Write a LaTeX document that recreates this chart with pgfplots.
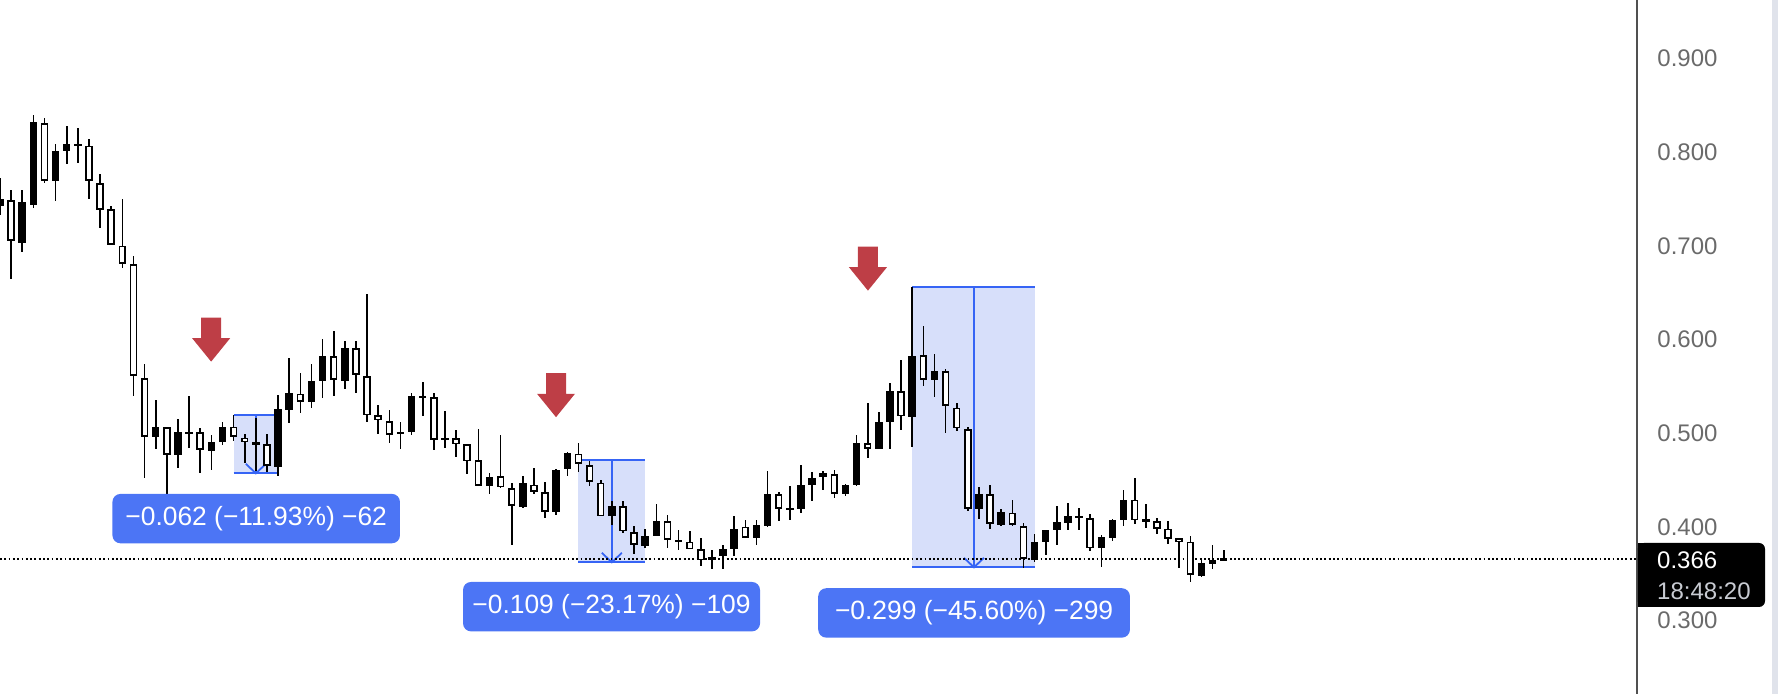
\documentclass[border=0pt]{standalone}
\usepackage{pgfplots}
\pgfplotsset{compat=1.18}
\usepackage{pgfplotstable}
\usepackage{fontspec}
\setmainfont{Liberation Sans}
\definecolor{boxfill}{RGB}{215,223,250}
\definecolor{lineblue}{RGB}{54,100,245}
\definecolor{labelblue}{RGB}{76,117,245}
\definecolor{arrowred}{RGB}{190,62,70}
\definecolor{tickgray}{RGB}{106,106,106}
\definecolor{axisgray}{RGB}{80,80,80}
\definecolor{stripgray}{RGB}{224,227,235}
\definecolor{timegray}{RGB}{200,203,210}

\pgfplotstableread{
i o h l c
0 0.742 0.772 0.733 0.750
1 0.749 0.759 0.665 0.705
2 0.703 0.760 0.693 0.747
3 0.744 0.840 0.740 0.832
4 0.831 0.836 0.767 0.769
5 0.769 0.809 0.748 0.801
6 0.801 0.828 0.787 0.809
7 0.8075 0.826 0.788 0.8080
8 0.807 0.814 0.750 0.769
9 0.767 0.777 0.719 0.738
10 0.739 0.742 0.701 0.701
11 0.700 0.750 0.676 0.681
12 0.680 0.689 0.540 0.561
13 0.559 0.574 0.452 0.496
14 0.496 0.535 0.483 0.506
15 0.506 0.506 0.434 0.477
16 0.477 0.515 0.463 0.501
17 0.4995 0.540 0.484 0.5000
18 0.501 0.505 0.457 0.482
19 0.481 0.498 0.461 0.490
20 0.491 0.512 0.487 0.507
21 0.507 0.519 0.492 0.496
22 0.495 0.499 0.468 0.491
23 0.487 0.516 0.459 0.490
24 0.488 0.499 0.458 0.465
25 0.464 0.541 0.454 0.526
26 0.525 0.580 0.511 0.543
27 0.542 0.564 0.521 0.533
28 0.533 0.574 0.527 0.556
29 0.556 0.600 0.537 0.582
30 0.582 0.609 0.540 0.557
31 0.556 0.598 0.547 0.591
32 0.591 0.598 0.543 0.562
33 0.561 0.649 0.512 0.519
34 0.519 0.530 0.499 0.514
35 0.513 0.525 0.489 0.498
36 0.500 0.512 0.483 0.501
37 0.501 0.543 0.498 0.540
38 0.5385 0.555 0.518 0.539
39 0.538 0.543 0.482 0.493
40 0.4935 0.524 0.484 0.4938
41 0.4945 0.503 0.475 0.488
42 0.488 0.488 0.456 0.470
43 0.471 0.504 0.443 0.444
44 0.443 0.457 0.435 0.453
45 0.454 0.498 0.441 0.442
46 0.441 0.447 0.380 0.422
47 0.421 0.454 0.420 0.447
48 0.445 0.463 0.435 0.437
49 0.437 0.448 0.409 0.416
50 0.416 0.462 0.413 0.461
51 0.462 0.480 0.454 0.479
52 0.478 0.489 0.458 0.467
53 0.466 0.470 0.444 0.448
54 0.447 0.450 0.411 0.411
55 0.412 0.427 0.402 0.422
56 0.422 0.428 0.393 0.395
57 0.394 0.401 0.371 0.381
58 0.379 0.398 0.377 0.390
59 0.390 0.424 0.390 0.406
60 0.406 0.413 0.377 0.386
61 0.385 0.397 0.375 0.3852
62 0.384 0.396 0.376 0.376
63 0.376 0.388 0.358 0.364
64 0.364 0.375 0.355 0.368
65 0.369 0.380 0.355 0.376
66 0.376 0.412 0.369 0.398
67 0.400 0.407 0.388 0.388
68 0.388 0.407 0.381 0.402
69 0.401 0.460 0.400 0.435
70 0.435 0.437 0.406 0.419
71 0.419 0.444 0.407 0.4192
72 0.419 0.466 0.415 0.445
73 0.445 0.458 0.428 0.452
74 0.453 0.460 0.439 0.457
75 0.456 0.461 0.431 0.435
76 0.435 0.446 0.433 0.445
77 0.445 0.498 0.444 0.489
78 0.489 0.532 0.473 0.483
79 0.483 0.523 0.483 0.512
80 0.512 0.554 0.483 0.545
81 0.545 0.578 0.503 0.518
82 0.517 0.656 0.485 0.582
83 0.583 0.614 0.550 0.557
84 0.557 0.584 0.538 0.566
85 0.566 0.568 0.500 0.529
86 0.527 0.532 0.502 0.505
87 0.504 0.506 0.417 0.419
88 0.419 0.442 0.408 0.435
89 0.435 0.445 0.398 0.403
90 0.402 0.419 0.401 0.416
91 0.415 0.429 0.401 0.402
92 0.401 0.404 0.356 0.366
93 0.365 0.392 0.362 0.384
94 0.384 0.397 0.370 0.397
95 0.397 0.422 0.381 0.405
96 0.404 0.425 0.397 0.412
97 0.409 0.420 0.397 0.411
98 0.409 0.414 0.374 0.377
99 0.377 0.391 0.357 0.389
100 0.388 0.408 0.385 0.407
101 0.407 0.439 0.401 0.429
102 0.429 0.452 0.403 0.407
103 0.4066 0.424 0.399 0.4068
104 0.406 0.409 0.392 0.398
105 0.398 0.406 0.382 0.387
106 0.388 0.388 0.356 0.384
107 0.384 0.390 0.341 0.349
108 0.347 0.364 0.346 0.361
109 0.360 0.380 0.355 0.364
110 0.3635 0.375 0.3635 0.3664
}\candles

\tikzset{redarrow/.style={fill=arrowred, draw=none}}
\pgfplotsset{candlebar/.style={draw=none, mark=none, error bars/.cd, y dir=both, y explicit, error mark=none}}

\begin{document}
\begin{tikzpicture}
\begin{axis}[
  scale only axis, width=818.5pt, height=347pt,
  xmin=0, xmax=147.15, ymin=0.2216, ymax=0.9625,
  axis line style={draw=none},
  xtick=\empty,
  ytick={0.3,0.4,0.5,0.6,0.7,0.8,0.9},
  yticklabel pos=right,
  major tick length=0pt,
  ytick style={draw=none},
  yticklabel style={anchor=west, inner sep=0pt, xshift=10pt, font=\fontsize{12}{14}\selectfont, text=tickgray},
  yticklabel={\pgfmathprintnumber[fixed,fixed zerofill,precision=3,assume math mode=true]{\tick}},
]
% measurement boxes (under candles)
\fill[boxfill] (axis cs:21,0.457) rectangle (axis cs:25,0.519);
\fill[boxfill] (axis cs:52,0.362) rectangle (axis cs:58,0.471);
\fill[boxfill] (axis cs:82,0.3567) rectangle (axis cs:93,0.6557);
\draw[lineblue, line width=0.9pt] (axis cs:21,0.519) -- (axis cs:25,0.519);
\draw[lineblue, line width=0.9pt] (axis cs:21,0.457) -- (axis cs:25,0.457);
\draw[lineblue, line width=0.9pt] (axis cs:23,0.519) -- (axis cs:23,0.457);
\draw[lineblue, line width=0.9pt] ([shift={(-5pt,4.75pt)}]axis cs:23,0.457) -- (axis cs:23,0.457) -- ([shift={(5pt,4.75pt)}]axis cs:23,0.457);
\draw[lineblue, line width=0.9pt] (axis cs:52,0.471) -- (axis cs:58,0.471);
\draw[lineblue, line width=0.9pt] (axis cs:52,0.362) -- (axis cs:58,0.362);
\draw[lineblue, line width=0.9pt] (axis cs:55,0.471) -- (axis cs:55,0.362);
\draw[lineblue, line width=0.9pt] ([shift={(-5pt,4.75pt)}]axis cs:55,0.362) -- (axis cs:55,0.362) -- ([shift={(5pt,4.75pt)}]axis cs:55,0.362);
\draw[lineblue, line width=0.9pt] (axis cs:82,0.6557) -- (axis cs:93,0.6557);
\draw[lineblue, line width=0.9pt] (axis cs:82,0.3567) -- (axis cs:93,0.3567);
\draw[lineblue, line width=0.9pt] (axis cs:87.55,0.6557) -- (axis cs:87.55,0.3567);
\draw[lineblue, line width=0.9pt] ([shift={(-5pt,4.75pt)}]axis cs:87.55,0.3567) -- (axis cs:87.55,0.3567) -- ([shift={(5pt,4.75pt)}]axis cs:87.55,0.3567);
% last price dotted line
\draw[black, line width=0.9pt, dash pattern=on 0.9pt off 1.25pt] (axis cs:0,0.366) -- (axis cs:147.15,0.366);
% wicks
\addplot[candlebar, error bar style={draw=black, line width=0.8pt}]
  table[x=i, y expr={0.5*(\thisrow{h}+\thisrow{l})}, y error expr={0.5*(\thisrow{h}-\thisrow{l})}]{\candles};
% filled (rising) bodies
\addplot[candlebar, error bar style={draw=black, line width=3.75pt}]
  table[x=i, y expr={(\thisrow{c}>\thisrow{o})*0.5*(\thisrow{o}+\thisrow{c}) + (1-(\thisrow{c}>\thisrow{o}))*(-10)},
        y error expr={max(0.5*abs(\thisrow{c}-\thisrow{o}),0.0011)}]{\candles};
% hollow (falling) bodies: outline
\addplot[candlebar, error bar style={draw=black, line width=3.75pt}]
  table[x=i, y expr={(1-(\thisrow{c}>\thisrow{o}))*0.5*(\thisrow{o}+\thisrow{c}) + (\thisrow{c}>\thisrow{o})*(-10)},
        y error expr={max(0.5*abs(\thisrow{c}-\thisrow{o}),0.0011)}]{\candles};
% hollow (falling) bodies: interior
\addplot[candlebar, error bar style={draw=white, line width=2.05pt}]
  table[x=i, y expr={(1-(\thisrow{c}>\thisrow{o}))*0.5*(\thisrow{o}+\thisrow{c}) + (\thisrow{c}>\thisrow{o})*(-10)},
        y error expr={max(0.5*abs(\thisrow{c}-\thisrow{o})-0.0018,0)}]{\candles};
% labels
\node[fill=labelblue, rounded corners=4pt, text=white, inner sep=0pt, minimum height=24.7pt, font=\fontsize{13.2}{15}\selectfont, minimum width=143.75pt] at (axis cs:23.03,0.4087) {−0.062 (−11.93\%) −62};
\node[fill=labelblue, rounded corners=4pt, text=white, inner sep=0pt, minimum height=24.7pt, font=\fontsize{13.2}{15}\selectfont, minimum width=148.5pt] at (axis cs:54.97,0.3147) {−0.109 (−23.17\%) −109};
\node[fill=labelblue, rounded corners=4pt, text=white, inner sep=0pt, minimum height=24.7pt, font=\fontsize{13.2}{15}\selectfont, minimum width=155.85pt] at (axis cs:87.56,0.3080) {−0.299 (−45.60\%) −299};
% red arrows
\fill[redarrow] (axis cs:18.98,0.5763) -- ++(-9.5pt,11.7pt) -- ++(4.5pt,0pt) -- ++(0pt,10.3pt) -- ++(10pt,0pt) -- ++(0pt,-10.3pt) -- ++(4.5pt,0pt) -- cycle;
\fill[redarrow] (axis cs:49.98,0.5170) -- ++(-9.5pt,11.7pt) -- ++(4.5pt,0pt) -- ++(0pt,10.3pt) -- ++(10pt,0pt) -- ++(0pt,-10.3pt) -- ++(4.5pt,0pt) -- cycle;
\fill[redarrow] (axis cs:78.02,0.6521) -- ++(-9.5pt,11.7pt) -- ++(4.5pt,0pt) -- ++(0pt,10.3pt) -- ++(10pt,0pt) -- ++(0pt,-10.3pt) -- ++(4.5pt,0pt) -- cycle;
\end{axis}
% price scale decorations
\fill[stripgray] (885.85pt,0pt) rectangle (889pt,347pt);
\draw[axisgray, line width=0.85pt] (818.5pt,0pt) -- (818.5pt,347pt);
\fill[black, rounded corners=3pt] (818.9pt,43.5pt) rectangle (882.5pt,75.5pt);
\fill[black] (818.9pt,43.5pt) rectangle (830pt,75.5pt);
\node[anchor=west, inner sep=0pt, text=white, font=\fontsize{12}{14}\selectfont] at (828.4pt,67pt) {0.366};
\node[anchor=west, inner sep=0pt, text=timegray, font=\fontsize{12}{14}\selectfont] at (828.4pt,51.2pt) {18:48:20};
\pgfresetboundingbox
\useasboundingbox (0pt,0pt) rectangle (889pt,347pt);
\end{tikzpicture}
\end{document}
